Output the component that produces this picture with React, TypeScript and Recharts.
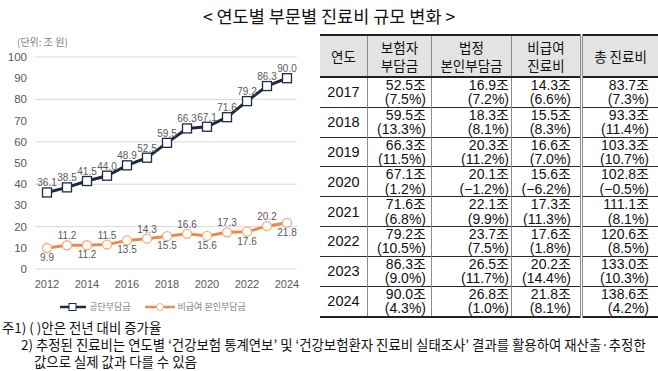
import { CartesianGrid, LabelList, Legend, Line, LineChart, XAxis, YAxis } from "recharts";

const YEARS = [2012, 2013, 2014, 2015, 2016, 2017, 2018, 2019, 2020, 2021, 2022, 2023, 2024];
const NHIS = [36.1, 38.5, 41.5, 44.0, 48.9, 52.5, 59.5, 66.3, 67.1, 71.6, 79.2, 86.3, 90.0];
const NON_COVERED_OOP = [9.9, 11.2, 11.2, 11.5, 13.5, 14.3, 15.5, 16.6, 15.6, 17.3, 17.6, 20.2, 21.8];
const X_TICKS = [2012, 2014, 2016, 2018, 2020, 2022, 2024];
const Y_TICKS = [0, 10, 20, 30, 40, 50, 60, 70, 80, 90, 100];

const TABLE_YEARS = [2017, 2018, 2019, 2020, 2021, 2022, 2023, 2024];
const INSURER = [52.5, 59.5, 66.3, 67.1, 71.6, 79.2, 86.3, 90.0];
const INSURER_GR = [7.5, 13.3, 11.5, 1.2, 6.8, 10.5, 9.0, 4.3];
const STATUTORY = [16.9, 18.3, 20.3, 20.1, 22.1, 23.7, 26.5, 26.8];
const STATUTORY_GR = [7.2, 8.1, 11.2, -1.2, 9.9, 7.5, 11.7, 1.0];
const NON_COVERED = [14.3, 15.5, 16.6, 15.6, 17.3, 17.6, 20.2, 21.8];
const NON_COVERED_GR = [6.6, 8.3, 7.0, -6.2, 11.3, 1.8, 14.4, 8.1];
const TOTAL = [83.7, 93.3, 103.3, 102.8, 111.1, 120.6, 133.0, 138.6];
const TOTAL_GR = [7.3, 11.4, 10.7, -0.5, 8.1, 8.5, 10.3, 4.2];

const NAVY = "#1e2a45";
const ORANGE = "#ea8a48";
const LABEL = "#595959";
const KR = '"Noto Sans CJK KR", sans-serif';
const NUM = '"Liberation Sans", "Noto Sans CJK KR", sans-serif';
const NARROW = '"Liberation Sans Narrow", "Liberation Sans", "Noto Sans CJK KR", sans-serif';

const chartData = YEARS.map((year, i) => ({
  year,
  nhis: NHIS[i],
  oop: NON_COVERED_OOP[i],
}));

const fmt = (v: number) => v.toFixed(1);
const pct = (v: number) => `(${v < 0 ? "−" : ""}${Math.abs(v).toFixed(1)}%)`;

const SquareDot = (p: any) => (
  <rect key={`s${p.index}`} x={p.cx - 4.5} y={p.cy - 4.5} width={9} height={9} fill="#fff" stroke={NAVY} strokeWidth={1.3} />
);

const CircleDot = (p: any) => (
  <circle key={`c${p.index}`} cx={p.cx} cy={p.cy} r={4.5} fill="#fff" stroke="#f2ae7e" strokeWidth={1.3} />
);

// orange labels alternate: even years below the point, odd years above
const OopLabel = (p: any) => {
  const x = p.viewBox?.x ?? p.x;
  const y = p.viewBox?.y ?? p.y;
  const below = p.index % 2 === 0;
  return (
    <text x={x} y={below ? y + 13 : y - 6} textAnchor="middle" fill={LABEL} fontSize={10} fontFamily={NUM}>
      {fmt(p.value)}
    </text>
  );
};

const LegendBox = () => (
  <div style={{ display: "flex", justifyContent: "center", gap: 14, fontFamily: KR, fontSize: 9, color: "#7f7f7f", alignItems: "center" }}>
    <span style={{ display: "flex", alignItems: "center", gap: 3 }}>
      <svg width={26} height={10}>
        <line x1={0} y1={5} x2={26} y2={5} stroke={NAVY} strokeWidth={2.5} />
        <rect x={9} y={1.5} width={7} height={7} fill="#fff" stroke={NAVY} strokeWidth={1} />
      </svg>
      공단부담금
    </span>
    <span style={{ display: "flex", alignItems: "center", gap: 3 }}>
      <svg width={30} height={10}>
        <line x1={0} y1={5} x2={30} y2={5} stroke={ORANGE} strokeWidth={2.5} />
        <circle cx={15} cy={5} r={3.5} fill="#fff" stroke="#f2ae7e" strokeWidth={1} />
      </svg>
      비급여 본인부담금
    </span>
  </div>
);

function CostChart() {
  return (
    <LineChart width={310} height={300} data={chartData} margin={{ top: 27, right: 13, bottom: 31, left: 0 }}>
      <CartesianGrid vertical={false} stroke="#d9d9d9" />
      <XAxis
        dataKey="year"
        type="number"
        domain={[2012, 2024]}
        ticks={X_TICKS}
        padding={{ left: 12, right: 10 }}
        axisLine={false}
        tickLine={false}
        tickMargin={5}
        height={30}
        tick={{ fill: LABEL, fontSize: 11, fontFamily: NUM }}
      />
      <YAxis
        domain={[0, 100]}
        ticks={Y_TICKS}
        width={35}
        axisLine={false}
        tickLine={false}
        tick={{ fill: LABEL, fontSize: 11.5, fontFamily: NUM }}
      />
      <Legend
        verticalAlign="middle"
        align="center"
        wrapperStyle={{ top: 270, left: 8, width: 290, height: 16 }}
        content={() => <LegendBox />}
      />
      <Line dataKey="oop" stroke={ORANGE} strokeWidth={3} dot={CircleDot} isAnimationActive={false}>
        <LabelList dataKey="oop" content={OopLabel} />
      </Line>
      <Line dataKey="nhis" stroke={NAVY} strokeWidth={3} dot={SquareDot} isAnimationActive={false}>
        <LabelList dataKey="nhis" position="top" offset={6} formatter={(v: any) => fmt(v)} fill={LABEL} fontSize={10} fontFamily={NUM} />
      </Line>
    </LineChart>
  );
}

const COLS = [
  { w: 47 },
  { w: 63, pad: 5 },
  { w: 79, pad: 2 },
  { w: 68, pad: 9 },
  { w: 75, pad: 9 },
];

function CostTable() {
  const rowLine = "1.5px solid #2b2b2b";
  const vLine = "1px solid #8c8c8c";
  const head = (text: string[], i: number) => (
    <th
      key={i}
      style={{
        width: COLS[i].w,
        height: 40,
        fontWeight: 400,
        fontSize: 13.5,
        lineHeight: "18px",
        background: "#e3e3e3",
        borderLeft: i === 0 ? "none" : i === 4 ? "3px double #8c8c8c" : vLine,
        padding: 0,
      }}
    >
      {text.map((t, k) => (
        <div key={k}>{t}</div>
      ))}
    </th>
  );
  const cell = (v: number, g: number, i: number) => (
    <td
      style={{
        textAlign: "right",
        padding: 0,
        paddingRight: COLS[i].pad,
        fontFamily: NARROW,
        fontSize: 14,
        lineHeight: "14.4px",
        borderLeft: i === 4 ? "3px double #8c8c8c" : vLine,
        whiteSpace: "nowrap",
        overflow: "hidden",
      }}
    >
      <div>{fmt(v)}조</div>
      <div>{pct(g)}</div>
    </td>
  );
  return (
    <table
      style={{
        position: "absolute",
        left: 320,
        top: 34,
        width: 333,
        borderCollapse: "collapse",
        tableLayout: "fixed",
        fontFamily: KR,
        color: "#111",
        borderTop: "2px solid #222",
        borderBottom: "2px solid #222",
      }}
    >
      <thead>
        <tr style={{ borderBottom: "2px solid #222" }}>
          {head(["연도"], 0)}
          {head(["보험자", "부담금"], 1)}
          {head(["법정", "본인부담금"], 2)}
          {head(["비급여", "진료비"], 3)}
          {head(["총 진료비"], 4)}
        </tr>
      </thead>
      <tbody>
        {TABLE_YEARS.map((y, r) => (
          <tr key={y} style={{ height: 29, borderTop: r === 0 ? "none" : rowLine }}>
            <td style={{ textAlign: "center", fontFamily: NUM, fontSize: 14.5, lineHeight: "16px", padding: 0 }}>{y}</td>
            {cell(INSURER[r], INSURER_GR[r], 1)}
            {cell(STATUTORY[r], STATUTORY_GR[r], 2)}
            {cell(NON_COVERED[r], NON_COVERED_GR[r], 3)}
            {cell(TOTAL[r], TOTAL_GR[r], 4)}
          </tr>
        ))}
      </tbody>
    </table>
  );
}

export default function App() {
  return (
    <div style={{ position: "absolute", left: 0, top: 0, width: 658, height: 371, background: "#fff", overflow: "hidden" }}>
      <div style={{ position: "absolute", top: 3, left: 0, width: 658, textAlign: "center", fontFamily: KR, fontSize: 17.5, fontWeight: 400, color: "#111" }}>
        &lt; 연도별 부문별 진료비 규모 변화 &gt;
      </div>
      <div style={{ position: "absolute", top: 34, left: 17, fontFamily: KR, fontSize: 10, color: "#7f7f7f" }}>(단위: 조 원)</div>
      <div style={{ position: "absolute", top: 30, left: 0 }}>
        <CostChart />
      </div>
      <CostTable />
      <div style={{ position: "absolute", top: 319, left: 2, fontFamily: KR, fontSize: 13.4, lineHeight: "17px", color: "#111", whiteSpace: "nowrap" }}>
        <div>주1) ( )안은 전년 대비 증가율</div>
        <div style={{ paddingLeft: 19 }}>2) 추정된 진료비는 연도별 ‘건강보험 통계연보’ 및 ‘건강보험환자 진료비 실태조사’ 결과를 활용하여 재산출·추정한</div>
        <div style={{ paddingLeft: 32 }}>값으로 실제 값과 다를 수 있음</div>
      </div>
    </div>
  );
}
